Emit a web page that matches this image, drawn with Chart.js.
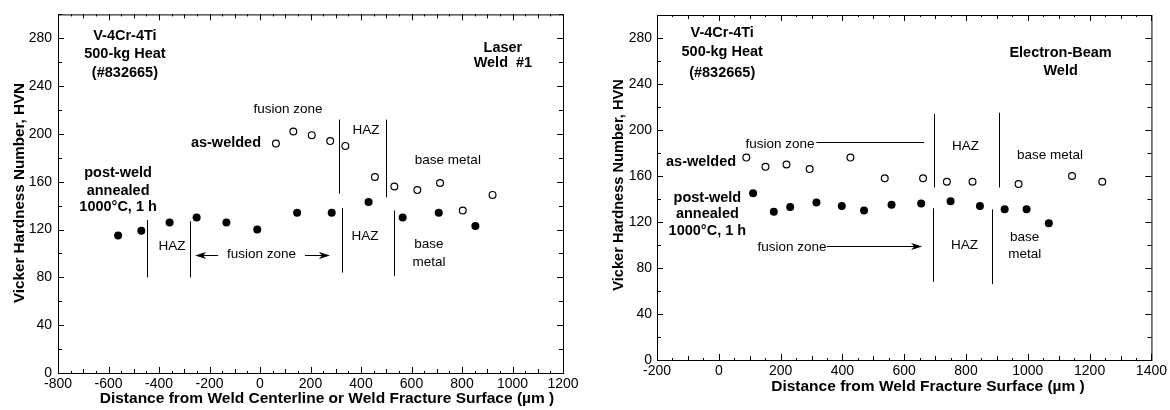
<!DOCTYPE html>
<html><head><meta charset="utf-8">
<script src="https://cdn.jsdelivr.net/npm/chart.js@4.4.0/dist/chart.umd.min.js"></script>
<style>
html,body{margin:0;padding:0;background:#fff;}
#wrap{position:relative;width:1170px;height:410px;overflow:hidden;}
canvas{position:absolute;top:0;}
#c1{left:0;} #c2{left:585px;}
</style></head><body>
<div id="wrap">
<canvas id="c1" width="585" height="410"></canvas>
<canvas id="c2" width="585" height="410"></canvas>
</div>
<script>
// ---------- DATA ----------
// Laser Weld #1 (distance from weld centerline, um ; Vickers hardness HVN)
const laserAsWeldedX = [63, 132, 205, 278, 338, 455, 532, 623, 713, 803, 921];
const laserAsWeldedY = [192, 202, 199, 194, 190, 164, 156, 153, 159, 136, 149];
const laserAnnealedX = [-562, -470, -358, -251, -133, -11, 147, 284, 430, 565, 708, 853];
const laserAnnealedY = [115, 119, 126, 130, 126, 120, 134, 134, 143, 130, 134, 123];
// region boundaries (um)
const laserAsWeldedBounds = [312, 500];
const laserAnnealedBounds = [-447, -277, 325, 532];

// Electron-Beam Weld (distance from weld fracture surface, um)
const ebAsWeldedX = [89, 151, 219, 294, 426, 537, 661, 738, 821, 970, 1143, 1241];
const ebAsWeldedY = [176, 168, 170, 166, 176, 158, 158, 155, 155, 153, 160, 155];
const ebAnnealedX = [111, 178, 231, 316, 398, 470, 559, 655, 750, 845, 925, 996, 1068];
const ebAnnealedY = [145, 129, 133, 137, 134, 130, 135, 136, 138, 134, 131, 131, 119];
const ebAsWeldedBounds = [697, 908];
const ebAnnealedBounds = [693, 885];

// tick labels
const laserXTicks = [-800, -600, -400, -200, 0, 200, 400, 600, 800, 1000, 1200];
const ebXTicks = [-200, 0, 200, 400, 600, 800, 1000, 1200, 1400];
const yTicks = [0, 40, 80, 120, 160, 200, 240, 280];

const yTitle = 'Vicker Hardness Number, HVN';
const laserXTitle = 'Distance from Weld Centerline or Weld Fracture Surface (\u00b5m )';
const ebXTitle = 'Distance from Weld Fracture Surface (\u00b5m )';

// ---------- RENDERING ----------
const FONT = '"Liberation Sans", Arial, Helvetica, sans-serif';

const annot = {
  id: 'annot',
  afterDraw(chart, args, o) {
    const {ctx, chartArea: a, scales: {x, y}} = chart;
    ctx.save();
    ctx.strokeStyle = '#000'; ctx.fillStyle = '#000'; ctx.lineWidth = 1;
    ctx.strokeRect(a.left + 0.5, a.top + 0.5, a.right - a.left, a.bottom - a.top);
    ctx.beginPath();
    for (let v = x.min; v <= x.max; v += 50) {
      const px = Math.round(x.getPixelForValue(v)) + 0.5;
      const len = Math.abs(v % 200) === 0 ? 6 : (Math.abs(v % 100) === 0 ? 4 : 2);
      ctx.moveTo(px, a.bottom); ctx.lineTo(px, a.bottom - len);
      ctx.moveTo(px, a.top); ctx.lineTo(px, a.top + len);
    }
    for (let v = y.min; v <= y.max; v += 20) {
      const py = Math.round(y.getPixelForValue(v)) + 0.5;
      const len = v % 40 === 0 ? 6 : 4;
      ctx.moveTo(a.left, py); ctx.lineTo(a.left + len, py);
      ctx.moveTo(a.right, py); ctx.lineTo(a.right - len, py);
    }
    ctx.stroke();
    // boundary lines
    ctx.beginPath();
    o.vlines.forEach(([xv, y0, y1]) => {
      const px = Math.round(x.getPixelForValue(xv)) + 0.5;
      ctx.moveTo(px, y.getPixelForValue(y0)); ctx.lineTo(px, y.getPixelForValue(y1));
    });
    (o.hlines || []).forEach(([x0, x1, yv]) => {
      const py = Math.round(y.getPixelForValue(yv)) + 0.5;
      ctx.moveTo(x.getPixelForValue(x0), py); ctx.lineTo(x.getPixelForValue(x1), py);
    });
    ctx.stroke();
    // arrows
    (o.arrows || []).forEach(([x0, x1, yv]) => {
      const p0 = x.getPixelForValue(x0), p1 = x.getPixelForValue(x1);
      const py = Math.round(y.getPixelForValue(yv)) + 0.5;
      const dir = Math.sign(p1 - p0);
      ctx.beginPath(); ctx.moveTo(p0, py); ctx.lineTo(p1 - dir * 6, py); ctx.stroke();
      ctx.beginPath(); ctx.moveTo(p1, py); ctx.lineTo(p1 - dir * 11, py - 3.5);
      ctx.lineTo(p1 - dir * 8, py); ctx.lineTo(p1 - dir * 11, py + 3.5); ctx.closePath(); ctx.fill();
    });
    // texts
    ctx.textBaseline = 'middle';
    o.texts.forEach(t => {
      ctx.font = (t.bold ? 'bold 14.5px ' : '13.5px ') + FONT;
      ctx.textAlign = t.align || 'center';
      ctx.fillText(t.text, x.getPixelForValue(t.x), y.getPixelForValue(t.y));
    });
    // axis titles
    ctx.textAlign = 'center';
    ctx.font = 'bold 15.5px ' + FONT;
    ctx.fillText(o.xTitle, o.xTitlePos[0], o.xTitlePos[1]);
    ctx.save();
    ctx.font = 'bold ' + o.yTitleSize + 'px ' + FONT;
    ctx.translate(o.yTitlePos[0], o.yTitlePos[1]);
    ctx.rotate(-Math.PI / 2);
    ctx.fillText(yTitle, 0, 0);
    ctx.restore();
    ctx.restore();
  }
};

function pts(xs, ys) { return xs.map((v, i) => ({x: v, y: ys[i]})); }

function makeChart(id, cfg) {
  return new Chart(document.getElementById(id), {
    type: 'scatter',
    data: {
      datasets: [
        {label: 'as-welded', data: pts(cfg.awX, cfg.awY), pointStyle: 'circle', pointRadius: 3.4,
         backgroundColor: '#fff', borderColor: '#000', borderWidth: 1.2},
        {label: 'post-weld annealed 1000\u00b0C, 1 h', data: pts(cfg.anX, cfg.anY), pointStyle: 'circle', pointRadius: 4,
         backgroundColor: '#000', borderColor: '#000', borderWidth: 0}
      ]
    },
    options: {
      responsive: false, animation: false,
      layout: {padding: cfg.padding},
      plugins: {legend: {display: false}, tooltip: {enabled: false}, annot: cfg.annot},
      scales: {
        x: {
          type: 'linear', min: cfg.xTicks[0], max: cfg.xTicks[cfg.xTicks.length - 1],
          afterBuildTicks: s => { s.ticks = cfg.xTicks.map(v => ({value: v})); },
          afterFit: s => { s.height = cfg.xAxisH; },
          grid: {display: false, drawTicks: false, tickLength: 0}, border: {display: false},
          ticks: {color: '#000', padding: 3, font: {family: FONT, size: 14}, maxRotation: 0, autoSkip: false,
                  callback: v => String(v)}
        },
        y: {
          type: 'linear', min: 0, max: 300,
          afterBuildTicks: s => { s.ticks = yTicks.map(v => ({value: v})); },
          afterFit: s => { s.width = cfg.yAxisW; },
          grid: {display: false, drawTicks: false, tickLength: 0}, border: {display: false},
          ticks: {color: '#000', padding: cfg.yPad, font: {family: FONT, size: 14}, autoSkip: false,
                  callback: v => String(v)}
        }
      }
    },
    plugins: [annot]
  });
}

makeChart('c1', {
  awX: laserAsWeldedX, awY: laserAsWeldedY, anX: laserAnnealedX, anY: laserAnnealedY,
  xTicks: laserXTicks, padding: {left: 0, top: 14, right: 22, bottom: 0}, xAxisH: 37, yAxisW: 58, yPad: 6,
  annot: {
    xTitle: laserXTitle, xTitlePos: [327, 399], yTitlePos: [20, 193], yTitleSize: 15.2,
    vlines: [
      [laserAsWeldedBounds[0], 150, 212], [laserAsWeldedBounds[1], 147, 212],
      [laserAnnealedBounds[0], 80, 128], [laserAnnealedBounds[1], 80, 127],
      [laserAnnealedBounds[2], 84, 138], [laserAnnealedBounds[3], 81, 136]
    ],
    arrows: [[-166, -257, 99], [178, 277, 99]],
    texts: [
      {text: 'V-4Cr-4Ti', x: -535, y: 282, bold: true},
      {text: '500-kg Heat', x: -535, y: 267, bold: true},
      {text: '(#832665)', x: -535, y: 251, bold: true},
      {text: 'Laser', x: 962, y: 272, bold: true},
      {text: 'Weld  #1', x: 962, y: 259, bold: true},
      {text: 'fusion zone', x: 111, y: 221},
      {text: 'as-welded', x: 4, y: 192, bold: true, align: 'right'},
      {text: 'HAZ', x: 420, y: 203},
      {text: 'base metal', x: 744, y: 178},
      {text: 'post-weld', x: -562, y: 167, bold: true},
      {text: 'annealed', x: -562, y: 152, bold: true},
      {text: '1000\u00b0C, 1 h', x: -562, y: 139, bold: true},
      {text: 'HAZ', x: -349, y: 106},
      {text: 'fusion zone', x: 6, y: 99},
      {text: 'HAZ', x: 416, y: 114},
      {text: 'base', x: 669, y: 107.5},
      {text: 'metal', x: 669, y: 93}
    ]
  }
});

makeChart('c2', {
  awX: ebAsWeldedX, awY: ebAsWeldedY, anX: ebAnnealedX, anY: ebAnnealedY,
  xTicks: ebXTicks, padding: {left: 0, top: 15, right: 13, bottom: 0}, xAxisH: 50, yAxisW: 72, yPad: 5,
  annot: {
    xTitle: ebXTitle, xTitlePos: [343, 387], yTitlePos: [34, 185], yTitleSize: 14.6,
    vlines: [
      [ebAsWeldedBounds[0], 150, 214], [ebAsWeldedBounds[1], 150, 215],
      [ebAnnealedBounds[0], 68, 132], [ebAnnealedBounds[1], 66, 131]
    ],
    hlines: [[316, 664, 190]],
    arrows: [[349, 658, 99]],
    texts: [
      {text: 'V-4Cr-4Ti', x: 11, y: 284, bold: true},
      {text: '500-kg Heat', x: 11, y: 268, bold: true},
      {text: '(#832665)', x: 11, y: 250, bold: true},
      {text: 'Electron-Beam', x: 1106, y: 267, bold: true},
      {text: 'Weld', x: 1106, y: 251, bold: true},
      {text: 'fusion zone', x: 198, y: 188, align: 'center'},
      {text: 'as-welded', x: 56, y: 172, bold: true, align: 'right'},
      {text: 'HAZ', x: 798, y: 186},
      {text: 'base metal', x: 1072, y: 178},
      {text: 'post-weld', x: -37, y: 141, bold: true},
      {text: 'annealed', x: -37, y: 127, bold: true},
      {text: '1000\u00b0C, 1 h', x: -37, y: 112, bold: true},
      {text: 'fusion zone', x: 237, y: 98},
      {text: 'HAZ', x: 795, y: 100},
      {text: 'base', x: 990, y: 107},
      {text: 'metal', x: 990, y: 92}
    ]
  }
});
</script>
</body></html>
